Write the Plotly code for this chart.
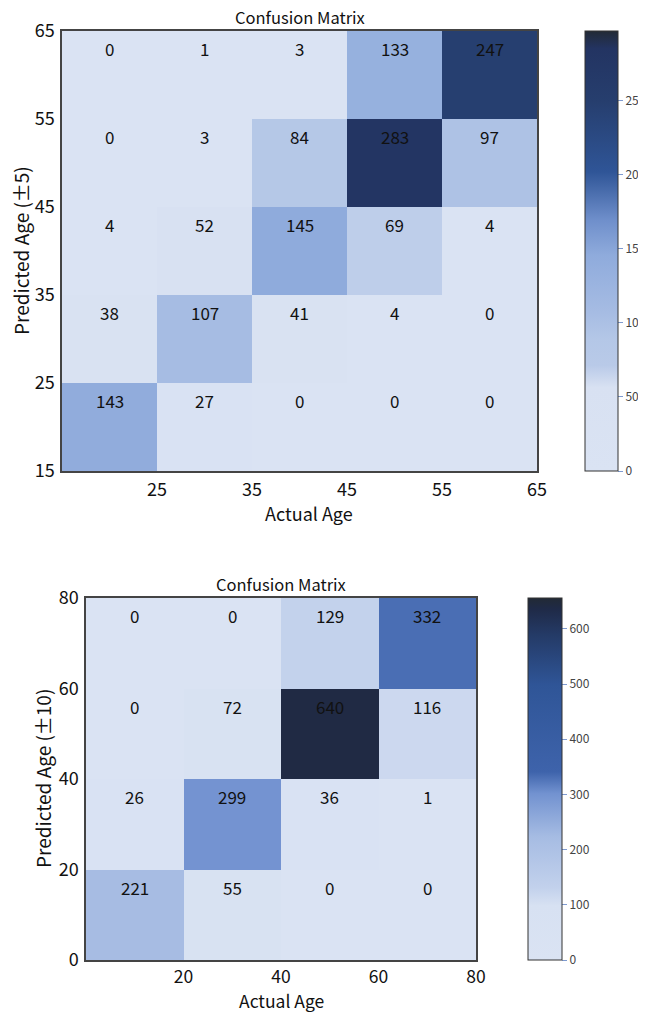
import plotly.graph_objects as go

# ---------------- data ----------------
edges_top = [15, 25, 35, 45, 55, 65]
# rows from bottom (15-25) to top (55-65); columns actual age bins
values_top = [
    [143, 27, 0, 0, 0],
    [38, 107, 41, 4, 0],
    [4, 52, 145, 69, 4],
    [0, 3, 84, 283, 97],
    [0, 1, 3, 133, 247],
]
edges_bot = [0, 20, 40, 60, 80]
values_bot = [
    [221, 55, 0, 0],
    [26, 299, 36, 1],
    [0, 72, 640, 116],
    [0, 0, 129, 332],
]
zmax_top = 297
zmax_bot = 656
cb_ticks_top = [0, 50, 100, 150, 200, 250]
cb_ticks_bot = [0, 100, 200, 300, 400, 500, 600]

scale_top = [
    [0.0, "#dae3f3"], [0.19, "#d8e1f2"], [0.24, "#b9cae8"], [0.30, "#b4c7e7"],
    [0.36, "#a6bce3"], [0.49, "#8fabdc"], [0.57, "#6f8fcb"], [0.68, "#2f5597"],
    [0.84, "#263e6e"], [0.96, "#233462"], [1.0, "#222a35"],
]
scale_bot = [
    [0.0, "#dae3f3"], [0.15, "#d7e1f2"], [0.20, "#c2d1ec"], [0.34, "#a6bce3"],
    [0.46, "#7292d0"], [0.52, "#3e63ab"], [0.76, "#2f5597"], [0.9, "#243a66"],
    [0.97, "#1f2a47"], [1.0, "#222a35"],
]

# page offset of the plot div (body margin) is 8 px
OFF = 8
W, H = 646 - OFF, 1012 - OFF
FONT = "Noto Sans CJK KR"

def px_x(p):
    return (p - OFF) / W

def px_y(p):
    return 1 - (p - OFF) / H

fig = go.Figure()

# top heatmap
fig.add_trace(go.Heatmap(
    x=edges_top, y=edges_top, z=values_top, zmin=0, zmax=zmax_top,
    colorscale=scale_top, xaxis="x", yaxis="y", hoverinfo="z",
    colorbar=dict(x=px_x(585), xanchor="left", y=px_y(31), yanchor="top",
                  len=440 / H, lenmode="fraction", thickness=33, thicknessmode="pixels",
                  outlinewidth=1, outlinecolor="#333", ypad=0, xpad=0,
                  tickvals=cb_ticks_top, ticks="outside", ticklen=5, tickcolor="#7f9bd0",
                  tickfont=dict(size=12, color="#444", family=FONT)),
))
# bottom heatmap
fig.add_trace(go.Heatmap(
    x=edges_bot, y=edges_bot, z=values_bot, zmin=0, zmax=zmax_bot,
    colorscale=scale_bot, xaxis="x2", yaxis="y2", hoverinfo="z",
    colorbar=dict(x=px_x(528), xanchor="left", y=px_y(598), yanchor="top",
                  len=362 / H, lenmode="fraction", thickness=34, thicknessmode="pixels",
                  outlinewidth=1, outlinecolor="#333", ypad=0, xpad=0,
                  tickvals=cb_ticks_bot, ticks="outside", ticklen=5, tickcolor="#7f9bd0",
                  tickfont=dict(size=12, color="#444", family=FONT)),
))

annotations = []
def cell_text(edges, values, xr, yr):
    for j, row in enumerate(values):
        for i, v in enumerate(row):
            annotations.append(dict(
                x=(edges[i] + edges[i + 1]) / 2, y=edges[j + 1], xref=xr, yref=yr,
                text=str(v), showarrow=False, yanchor="top", yshift=-3,
                font=dict(size=17, color="#111", family=FONT)))

cell_text(edges_top, values_top, "x", "y")
cell_text(edges_bot, values_bot, "x2", "y2")

def label(text, x, y, size=18, angle=0, yanchor="middle"):
    annotations.append(dict(text=text, x=px_x(x), y=px_y(y), xref="paper", yref="paper",
                            showarrow=False, xanchor="center", yanchor=yanchor,
                            textangle=angle, font=dict(size=size, color="#111", family=FONT)))

label("Confusion Matrix", 299.5, 31, size=16.5, yanchor="bottom")
label("Actual Age", 309, 513)
label("Predicted Age (±5)", 20, 251, size=19, angle=-90)
label("Confusion Matrix", 281, 598, size=16.5, yanchor="bottom")
label("Actual Age", 281, 1000, size=17.5)
label("Predicted Age (±10)", 42, 779, size=19, angle=-90)

axis_common = dict(showline=True, mirror=True, linecolor="#444", linewidth=1.5,
                   showgrid=False, zeroline=False, ticks="", automargin=False)
tick_font = dict(size=18, color="#111", family=FONT)

fig.update_layout(
    width=W, height=H, margin=dict(l=0, r=0, t=0, b=0, autoexpand=False),
    paper_bgcolor="white", plot_bgcolor="white",
    font=dict(family=FONT),
    xaxis=dict(domain=[px_x(62), px_x(537)], anchor="y", range=[15, 65],
               tickvals=edges_top[1:], ticklabelstandoff=2, tickfont=tick_font, **axis_common),
    yaxis=dict(domain=[px_y(471), px_y(31)], anchor="x", range=[15, 65],
               tickvals=edges_top, ticklabelstandoff=2, tickfont=tick_font, **axis_common),
    xaxis2=dict(domain=[px_x(86), px_x(476)], anchor="y2", range=[0, 80],
                tickvals=edges_bot[1:], ticklabelstandoff=0,
                tickfont=dict(size=17.5, color="#111", family=FONT), **axis_common),
    yaxis2=dict(domain=[px_y(960), px_y(598)], anchor="x2", range=[0, 80],
                tickvals=edges_bot, ticklabelstandoff=2, tickfont=tick_font, **axis_common),
    annotations=annotations,
)

fig.write_html("out.html")
